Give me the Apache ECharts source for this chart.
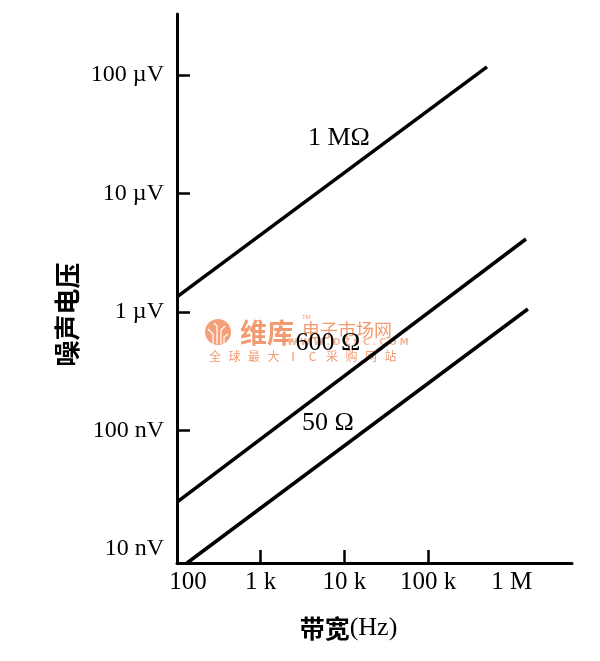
<!DOCTYPE html>
<html>
<head>
<meta charset="utf-8">
<script src="https://cdn.jsdelivr.net/npm/echarts@6/dist/echarts.min.js"></script>
<style>
  html, body { margin: 0; padding: 0; background: #fff; }
  #main { width: 600px; height: 661px; }
</style>
</head>
<body>
<div id="main"></div>
<script>
// line end points: bandwidth (Hz) / noise voltage (V)
const bandwidth1M = [100, 5.06e5];
const noise1M = [1.34e-6, 1.17e-4];
const bandwidth600 = [100, 1.48e6];
const noise600 = [2.49e-8, 4.13e-6];
const bandwidth50 = [131.6, 1.56e6];
const noise50 = [7.62e-9, 1.06e-6];

// where the resistance names sit
const seriesNames = ['1 MΩ', '600 Ω', '50 Ω'];
const nameAtX = [8.61e3, 6.37e3, 6.37e3];
const nameAtY = [2.94e-5, 5.47e-7, 1.16e-7];

// ticks
const xTickValues = [1e3, 1e4, 1e5];
const xTickLabels = ['100', '1 k', '10 k', '100 k', '1 M'];          // 10^2 .. 10^6
const yTickValues = [1e-7, 1e-6, 1e-5, 1e-4];
const yTickLabels = ['10 nV', '100 nV', '1 µV', '10 µV', '100 µV'];  // 10^-8 .. 10^-4

const serif = 'Liberation Serif';
const cjk = 'Noto Sans CJK SC';
const wm = '#f39a70';

function noiseLine(name, xs, ys, lx, ly) {
  return {
    name: name,
    type: 'line',
    data: xs.map((x, i) => [x, ys[i]]),
    symbol: 'none',
    lineStyle: { color: '#000', width: 3.5 },
    z: 3,
    markPoint: {
      symbol: 'circle',
      symbolSize: 0,
      data: [{ coord: [lx, ly] }],
      label: { show: true, formatter: name, color: '#000', fontFamily: serif, fontSize: 26 }
    }
  };
}

// watermark (维库电子市场网)
const wmLetters = '全球最大IC采购网站';
const watermark = [
  { type: 'circle', shape: { cx: 218, cy: 332, r: 13 }, style: { fill: '#f4a07a' }, z: 0 },
  { type: 'polyline', shape: { points: [[213, 344], [213, 334], [208, 329]] }, style: { stroke: '#fff', lineWidth: 1.2, fill: null }, z: 1 },
  { type: 'polyline', shape: { points: [[217, 344], [217, 326], [214, 323]] }, style: { stroke: '#fff', lineWidth: 1.2, fill: null }, z: 1 },
  { type: 'polyline', shape: { points: [[221, 344], [221, 330], [225, 326]] }, style: { stroke: '#fff', lineWidth: 1.2, fill: null }, z: 1 },
  { type: 'polyline', shape: { points: [[224, 344], [224, 337], [228, 334]] }, style: { stroke: '#fff', lineWidth: 1.2, fill: null }, z: 1 },
  { type: 'text', x: 240, y: 333, style: { text: '维库', font: 'bold 27px "' + cjk + '"', fill: wm, textVerticalAlign: 'middle' }, z: 0 },
  { type: 'text', x: 302, y: 330, style: { text: '电子市场网', font: '18px "' + cjk + '"', fill: wm, textVerticalAlign: 'middle' }, z: 0 },
  { type: 'text', x: 302, y: 317, style: { text: 'TM', font: '6px sans-serif', fill: wm, textVerticalAlign: 'middle' }, z: 0 },
  { type: 'text', x: 348, y: 343, style: { text: 'W W W . D Z S C . C O M', font: 'bold 9px "DejaVu Sans"', fill: '#f6b596', textAlign: 'center', textVerticalAlign: 'middle' }, z: 0 }
].concat(wmLetters.split('').map((ch, i) => ({
  type: 'text', x: 215 + i * 19.5, y: 356,
  style: { text: ch, font: '12px "' + cjk + '"', fill: wm, textAlign: 'center', textVerticalAlign: 'middle' }, z: 0
})));

const chart = echarts.init(document.getElementById('main'));
chart.setOption({
  animation: false,
  backgroundColor: '#fff',
  grid: { left: 177, right: 28, top: 14, bottom: 98 },
  graphic: watermark,
  xAxis: {
    type: 'log',
    logBase: 10,
    min: 100,
    max: 5.25e6,
    axisLine: { show: true, lineStyle: { color: '#000', width: 3 } },
    axisTick: { show: true, inside: true, length: 13, customValues: xTickValues, lineStyle: { color: '#000', width: 2.5 } },
    axisLabel: {
      showMinLabel: true,
      showMaxLabel: false,
      margin: 7,
      color: '#000',
      fontFamily: serif,
      fontSize: 25,
      formatter: v => {
        const t = xTickLabels[Math.round(Math.log10(v)) - 2] || '';
        return t === '100' ? '{p|100}' : t;
      },
      rich: { p: { fontFamily: serif, fontSize: 25, color: '#000', padding: [0, 0, 0, 22] } }
    },
    splitLine: { show: false },
    name: '{a|带宽}{b|(Hz)}',
    nameLocation: 'middle',
    nameGap: 52,
    nameTextStyle: {
      padding: [0, 52, 0, 0],
      rich: {
        a: { fontFamily: cjk, fontWeight: 'bold', fontSize: 25, color: '#000' },
        b: { fontFamily: serif, fontSize: 26, color: '#000' }
      }
    }
  },
  yAxis: {
    type: 'log',
    logBase: 10,
    min: 7.62e-9,
    max: 3.27e-4,
    axisLine: { show: true, lineStyle: { color: '#000', width: 3 } },
    axisTick: { show: true, inside: true, length: 13, customValues: yTickValues, lineStyle: { color: '#000', width: 2.5 } },
    axisLabel: {
      showMinLabel: false,
      showMaxLabel: false,
      margin: 13,
      color: '#000',
      fontFamily: serif,
      fontSize: 24,
      formatter: v => yTickLabels[Math.round(Math.log10(v)) + 8] || ''
    },
    splitLine: { show: false },
    name: '噪声电压',
    nameLocation: 'middle',
    nameRotate: 90,
    nameGap: 95,
    nameTextStyle: { fontFamily: cjk, fontWeight: 'bold', fontSize: 26, color: '#000', padding: [0, 52, 0, 0] }
  },
  series: [
    noiseLine(seriesNames[0], bandwidth1M, noise1M, nameAtX[0], nameAtY[0]),
    noiseLine(seriesNames[1], bandwidth600, noise600, nameAtX[1], nameAtY[1]),
    noiseLine(seriesNames[2], bandwidth50, noise50, nameAtX[2], nameAtY[2])
  ]
});
</script>
</body>
</html>
